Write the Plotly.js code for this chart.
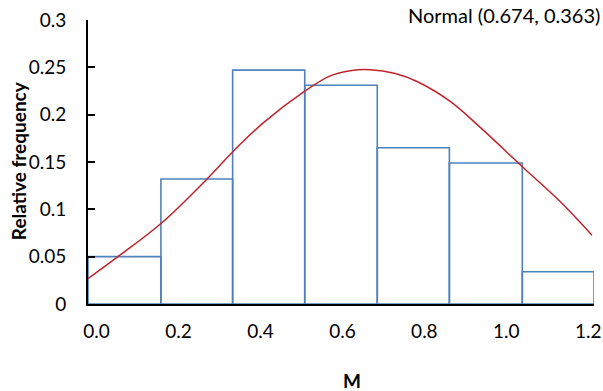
<!DOCTYPE html>
<html>
<head>
<meta charset="utf-8">
<script src="https://cdn.plot.ly/plotly-3.0.1.min.js"></script>
<style>html,body{margin:0;padding:0;background:#fff;}#chart{width:603px;height:391px;}</style>
</head>
<body>
<div id="chart"></div>
<script>
// Histogram bin edges (M) and relative frequencies
var binEdges = [-0.021, 0.157, 0.332, 0.508, 0.685, 0.861, 1.039, 1.214];
var relFreq = [0.050, 0.132, 0.247, 0.231, 0.165, 0.149, 0.034];

// Fitted normal curve points
var curveX = [-0.021, 0.052, 0.157, 0.270, 0.336, 0.406, 0.507, 0.570, 0.619, 0.668, 0.729, 0.782, 0.863, 0.937, 1.039, 1.132, 1.209];
var curveY = [0.0268, 0.050, 0.085, 0.1323, 0.1625, 0.191, 0.2245, 0.241, 0.2465, 0.2475, 0.2435, 0.235, 0.214, 0.1863, 0.145, 0.108, 0.0727];

var xTicks = [0.0, 0.2, 0.4, 0.6, 0.8, 1.0, 1.2];
var yTicks = [0, 0.05, 0.1, 0.15, 0.2, 0.25, 0.3];
var yTickText = ['0', '0.05', '0.1', '0.15', '0.2', '0.25', '0.3'];

var centers = [], widths = [];
for (var i = 0; i < relFreq.length; i++) {
  centers.push((binEdges[i] + binEdges[i + 1]) / 2);
  widths.push(binEdges[i + 1] - binEdges[i]);
}

var font = 'Lato, "Open Sans", sans-serif';

var traces = [
  {
    type: 'bar', x: centers, y: relFreq, width: widths,
    marker: {color: 'rgba(255,255,255,0)', line: {color: '#4f81bd', width: 1.6}},
    hoverinfo: 'skip', showlegend: false
  },
  {
    type: 'scatter', mode: 'lines', x: curveX, y: curveY,
    line: {color: '#c0232b', width: 1.5, shape: 'spline', smoothing: 1},
    hoverinfo: 'skip', showlegend: false
  }
];

var layout = {
  width: 603, height: 391,
  margin: {l: 88, r: 9, t: 20, b: 87, pad: 0},
  paper_bgcolor: '#fff', plot_bgcolor: '#fff',
  font: {family: font, size: 19, color: '#000'},
  bargap: 0,
  xaxis: {
    range: [binEdges[0], binEdges[binEdges.length - 1]],
    tickvals: xTicks, tickformat: '.1f',
    showline: true, linecolor: '#000', linewidth: 2,
    showgrid: false, zeroline: false, ticks: '',
    ticklabelstandoff: 9,
    tickfont: {family: font, size: 19, color: '#000'}
  },
  yaxis: {
    range: [0, 0.3], tickvals: yTicks, ticktext: yTickText,
    showline: true, linecolor: '#000', linewidth: 2,
    showgrid: false, zeroline: false,
    ticks: 'inside', ticklen: 7, tickwidth: 2, tickcolor: '#000',
    ticklabelstandoff: 16,
    tickfont: {family: font, size: 19, color: '#000'}
  },
  annotations: [
    {text: '<b>Relative frequency</b>', xref: 'paper', yref: 'paper',
     x: -(88 - 18) / 506, y: 1 - (161 - 20) / 283.6, xanchor: 'center', yanchor: 'middle', textangle: -90,
     showarrow: false, font: {family: font, size: 19, color: '#000'}},
    {text: '<b>M</b>', xref: 'paper', yref: 'paper',
     x: (352 - 88) / 506, y: -(380 - 303.6) / 283.6, xanchor: 'center', yanchor: 'middle',
     showarrow: false, font: {family: font, size: 19, color: '#000'}},
    {text: 'Normal (0.674, 0.363)', xref: 'paper', yref: 'paper',
     x: (602 - 88) / 506, y: 1 + 5 / 283.6, xanchor: 'right', yanchor: 'middle',
     showarrow: false, font: {family: font, size: 20, color: '#000'}}
  ]
};

Plotly.newPlot('chart', traces, layout, {staticPlot: true, displayModeBar: false});
</script>
</body>
</html>
